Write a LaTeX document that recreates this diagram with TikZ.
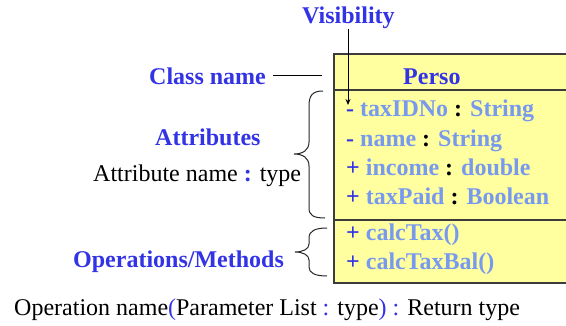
\documentclass[tikz,border=0pt]{standalone}
\usepackage{fontspec}
\setmainfont{Liberation Serif}
\usetikzlibrary{arrows.meta}
\definecolor{lblue}{RGB}{51,51,230}
\definecolor{pblue}{RGB}{119,153,238}
\definecolor{boxfill}{RGB}{255,255,160}
\definecolor{boxline}{RGB}{60,60,60}
\begin{document}
\begin{tikzpicture}[x=1pt,y=-1pt,
  txt/.style={inner sep=0pt, anchor=base west, font=\fontsize{24}{28}\selectfont},
  lab/.style={inner sep=0pt, anchor=base west, font=\fontsize{24}{28}\selectfont\bfseries, text=lblue},
  row/.style={inner sep=0pt, anchor=base west, font=\fontsize{24}{28}\selectfont\bfseries},
  boxpart/.style={draw=boxline, fill=boxfill, line width=1.2pt},
  bracestyle/.style={draw=black!85, line width=1pt},
  linkline/.style={draw=black, line width=1pt}]
\useasboundingbox (0,0) rectangle (566,325);

% class box
\draw[boxpart] (334,54) rectangle (572,283);
\draw[boxline, line width=1.2pt] (334,90) -- (572,90);
\draw[boxline, line width=1.2pt] (334,220) -- (572,220);

\node[lab] (perso) at (403,84) {Perso};

\node[row] (r1) at (346,116) {\textcolor{lblue}{-} \textcolor{pblue}{taxIDNo} : \textcolor{pblue}{String}};
\node[row] (r2) at (346,146) {\textcolor{lblue}{-} \textcolor{pblue}{name} : \textcolor{pblue}{String}};
\node[row] (r3) at (346,175) {\textcolor{lblue}{+} \textcolor{pblue}{income} : \textcolor{pblue}{double}};
\node[row] (r4) at (346,204) {\textcolor{lblue}{+} \textcolor{pblue}{taxPaid} : \textcolor{pblue}{Boolean}};
\node[row] (r5) at (346,240) {\textcolor{lblue}{+} \textcolor{pblue}{calcTax()}};
\node[row] (r6) at (346,269) {\textcolor{lblue}{+} \textcolor{pblue}{calcTaxBal()}};

% labels
\node[lab] (vis) at (302,23) {Visibility};
\node[lab] (cname) at (149,84) {Class name};
\node[lab] (attr) at (155,145) {Attributes};
\node[txt] (attrtype) at (93,181) {Attribute name \textcolor{lblue}{\textbf{:}} type};
\node[lab] (ops) at (73,267) {Operations/Methods};
\node[txt] (sig) at (14,315) {Operation name\textcolor{lblue}{(}Parameter List \textcolor{lblue}{:} type\textcolor{lblue}{)} \textcolor{lblue}{:} Return type};

% connectors
\coordinate (vistip) at (348,105);
\draw[linkline, -{Stealth[length=6pt,width=5pt]}] (348,29) -- (vistip);
\coordinate (cnend) at (322,75);
\draw[linkline] (273,75) -- (cnend);

% braces
\draw[bracestyle] (323,91) .. controls (312,91) and (309,96) .. (309,106) -- (309,142)
  .. controls (309,150) and (303,154) .. (294,154)
  .. controls (303,154) and (309,158) .. (309,166) -- (309,208)
  .. controls (309,215) and (313,218) .. (325,218);
\draw[bracestyle] (327,228) .. controls (315,228) and (309,231) .. (309,238) -- (309,244)
  .. controls (309,249) and (303,252) .. (295,252)
  .. controls (303,252) and (309,255) .. (309,260) -- (309,267)
  .. controls (309,273) and (315,276) .. (327,276);
\end{tikzpicture}
\end{document}
